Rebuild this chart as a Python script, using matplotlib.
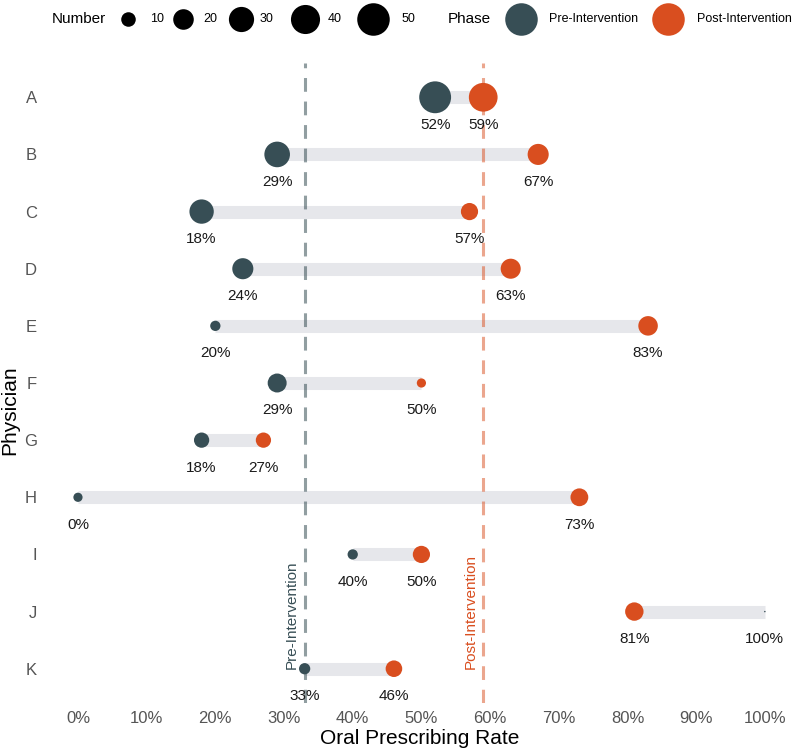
import numpy as np
import matplotlib
matplotlib.use("Agg")
import matplotlib.pyplot as plt

plt.rcParams['font.family'] = ['Liberation Sans', 'DejaVu Sans']

# Data
physicians = ["A", "B", "C", "D", "E", "F", "G", "H", "I", "J", "K"]
pre_rate = [52, 29, 18, 24, 20, 29, 18, 0, 40, 100, 33]
post_rate = [59, 67, 57, 63, 83, 50, 27, 73, 50, 81, 46]
pre_n = [48, 31, 28, 21, 5, 17, 11, 4, 5, 0, 6]
post_n = [39, 21, 14, 19, 18, 4, 11, 15, 14, 16, 13]
pre_mean = 33
post_mean = 59
legend_n = [10, 20, 30, 40, 50]
x_ticks = [0, 10, 20, 30, 40, 50, 60, 70, 80, 90, 100]

pre_col = "#374E55"
post_col = "#D94E1F"
seg_col = "#E6E7EB"

W, H, DPI = 793, 750, 100
PT = DPI / 72.0


def msize(n):
    # diameter in px ~ 4.6*sqrt(n), returned as scatter area in pt^2
    d_px = max(4.6 * np.sqrt(n), 1.5)
    return (d_px / PT) ** 2


fig = plt.figure(figsize=(W / DPI, H / DPI), dpi=DPI)
ax = fig.add_axes([45 / W, (H - 703) / H, (793 - 45) / W, 640 / H])

y = np.arange(len(physicians))

# dashed mean lines
ax.axvline(pre_mean, color=pre_col, alpha=0.55, lw=2.2, ls=(0, (4.5, 3.2)), zorder=1)
ax.axvline(post_mean, color=post_col, alpha=0.5, lw=2.2, ls=(0, (4.5, 3.2)), zorder=1)

# segments
for yi, a, b in zip(y, pre_rate, post_rate):
    ax.plot([a, b], [yi, yi], color=seg_col, lw=9.4, solid_capstyle="butt", zorder=0)

# points
ax.scatter(pre_rate, y, s=[msize(n) for n in pre_n], color=pre_col, zorder=3, linewidths=0)
ax.scatter(post_rate, y, s=[msize(n) for n in post_n], color=post_col, zorder=3, linewidths=0)

# percent labels
for yi, a, b in zip(y, pre_rate, post_rate):
    ax.text(a, yi + 0.48, f"{a}%", ha="center", va="center", fontsize=11, color="#1a1a1a")
    ax.text(b, yi + 0.48, f"{b}%", ha="center", va="center", fontsize=11, color="#1a1a1a")

ax.text(pre_mean - 1.9, y[-1], "Pre-Intervention", rotation=90, ha="center", va="bottom",
        fontsize=11, color=pre_col)
ax.text(post_mean - 1.8, y[-1], "Post-Intervention", rotation=90, ha="center", va="bottom",
        fontsize=11, color=post_col)

ax.set_xlim(-4.8, 104.1)
ax.set_ylim(10.6, -0.6)
ax.set_yticks(y)
ax.set_yticklabels(physicians)
ax.set_xticks(x_ticks)
ax.set_xticklabels([f"{t}%" for t in x_ticks])
ax.tick_params(length=0, labelsize=12, labelcolor="#555555")
ax.tick_params(axis="y", pad=6)
ax.tick_params(axis="x", pad=6)
for s in ax.spines.values():
    s.set_visible(False)
ax.set_xlabel("Oral Prescribing Rate", fontsize=15, va="center")
ax.set_ylabel("Physician", fontsize=15, va="center")
ax.xaxis.set_label_coords((420 - 45) / 748, -(738 - 703) / 640)
ax.yaxis.set_label_coords(-(45 - 10) / 748, (703 - 410) / 640)

# legend drawn in pixel space on an overlay axes
lax = fig.add_axes([0, 0, 1, 1], zorder=5)
lax.set_xlim(0, W)
lax.set_ylim(H, 0)
lax.axis("off")
ly = 19
lax.text(52, ly, "Number", fontsize=11, va="center", ha="left")
circ_x = [128, 183, 241, 305, 373]
lab_x = [150, 203, 260, 328, 402]
for n, cx, tx in zip(legend_n, circ_x, lab_x):
    lax.scatter([cx], [ly], s=msize(n), color="black", linewidths=0)
    lax.text(tx, ly, str(n), fontsize=9, va="center", ha="left")
lax.text(448, ly, "Phase", fontsize=11, va="center", ha="left")
lax.scatter([521], [ly], s=msize(50), color=pre_col, linewidths=0)
lax.text(549, ly, "Pre-Intervention", fontsize=9, va="center", ha="left")
lax.scatter([668], [ly], s=msize(50), color=post_col, linewidths=0)
lax.text(697, ly, "Post-Intervention", fontsize=9, va="center", ha="left")

fig.savefig("out.png", dpi=DPI)
